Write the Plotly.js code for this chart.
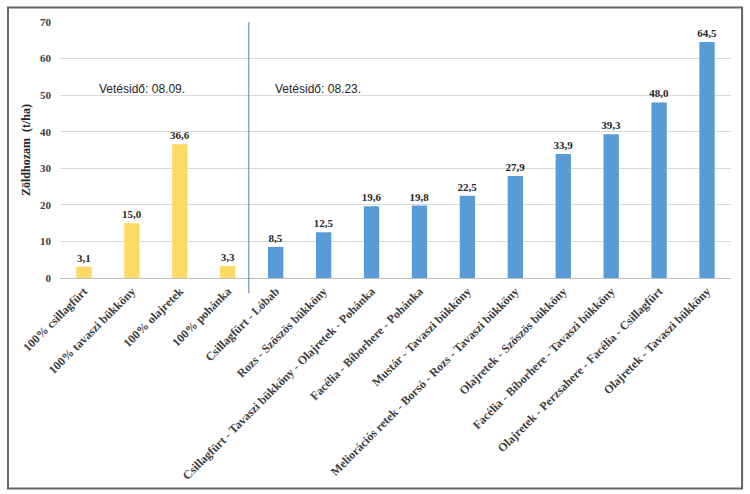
<!DOCTYPE html>
<html><head><meta charset="utf-8">
<script src="https://cdn.plot.ly/plotly-3.0.1.min.js"></script>
<style>html,body{margin:0;padding:0;background:#fff}#chart{width:750px;height:494px}</style>
</head><body><div id="chart"></div>
<script>
const categories = [
  "100% csillagfürt",
  "100% tavaszi bükköny",
  "100% olajretek",
  "100% pohánka",
  "Csillagfürt - Lóbab",
  "Rozs - Szöszös bükköny",
  "Csillagfürt - Tavaszi bükköny - Olajretek - Pohánka",
  "Facélia - Bíborhere - Pohánka",
  "Mustár - Tavaszi bükköny",
  "Meliorációs retek - Borsó - Rozs - Tavaszi bükköny",
  "Olajretek - Szöszös bükköny",
  "Facélia - Bíborhere - Tavaszi bükköny",
  "Olajretek - Perzsahere - Facélia - Csillagfürt",
  "Olajretek - Tavaszi bükköny"
];
const values = [3.1, 15.0, 36.6, 3.3, 8.5, 12.5, 19.6, 19.8, 22.5, 27.9, 33.9, 39.3, 48.0, 64.5];
const groups = ["08.09.", "08.09.", "08.09.", "08.09.", "08.23.", "08.23.", "08.23.", "08.23.", "08.23.", "08.23.", "08.23.", "08.23.", "08.23.", "08.23."];
const groupColors = {"08.09.": "#FFD966", "08.23.": "#5B9BD5"};
const yTicks = [0, 10, 20, 30, 40, 50, 60, 70];

const labels = values.map(v => v.toFixed(1).replace('.', ','));
const colors = groups.map(g => groupColors[g]);

const serif = 'Liberation Serif';
const sans = 'Liberation Sans';

const trace = {
  type: 'bar',
  x: categories,
  y: values,
  text: labels,
  textposition: 'outside',
  constraintext: 'none',
  cliponaxis: false,
  textfont: {family: serif, size: 11, color: '#262626', weight: 'bold'},
  marker: {color: colors},
  width: 0.32,
  hoverinfo: 'x+y'
};

const layout = {
  width: 750, height: 494,
  margin: {l: 60, r: 19, t: 22, b: 216},
  paper_bgcolor: '#ffffff',
  plot_bgcolor: '#ffffff',
  showlegend: false,
  font: {family: serif},
  xaxis: {
    type: 'category',
    tickangle: -45,
    tickfont: {family: serif, size: 12, color: '#404040', weight: 'bold'},
    showgrid: false,
    showline: false,
    ticks: '',
    ticklabelstandoff: 3,
    automargin: false,
    range: [-0.5, 13.5]
  },
  yaxis: {
    range: [0, 70],
    tickvals: yTicks,
    ticktext: yTicks.map(String),
    tickfont: {family: serif, size: 11, color: '#404040', weight: 'bold'},
    ticklabelstandoff: 8,
    gridcolor: '#d9d9d9',
    gridwidth: 1,
    zeroline: true,
    zerolinecolor: '#bfbfbf',
    zerolinewidth: 1,
    showline: false,
    ticks: '',
    automargin: false,
    title: {text: 'Zöldhozam  (t/ha)', font: {family: serif, size: 12, color: '#262626', weight: 'bold'}, standoff: 6}
  },
  annotations: [
    {x: 1.22, y: 51.7, xref: 'x', yref: 'y', text: 'Vetésidő: 08.09.', showarrow: false,
     font: {family: sans, size: 12, color: '#262626'}},
    {x: 4.88, y: 51.7, xref: 'x', yref: 'y', text: 'Vetésidő: 08.23.', showarrow: false,
     font: {family: sans, size: 12, color: '#262626'}}
  ],
  shapes: [
    {type: 'line', xref: 'x', yref: 'paper', x0: 3.44, x1: 3.44, y0: -0.06, y1: 1,
     line: {color: '#5a7ea8', width: 1}},
    {type: 'rect', xref: 'paper', yref: 'paper', x0: -0.0775, x1: 1.0165, y0: -0.822, y1: 1.057,
     line: {color: '#666666', width: 2}, fillcolor: 'rgba(0,0,0,0)', layer: 'above'}
  ]
};

Plotly.newPlot('chart', [trace], layout, {displayModeBar: false, staticPlot: true});
</script>
</body></html>
